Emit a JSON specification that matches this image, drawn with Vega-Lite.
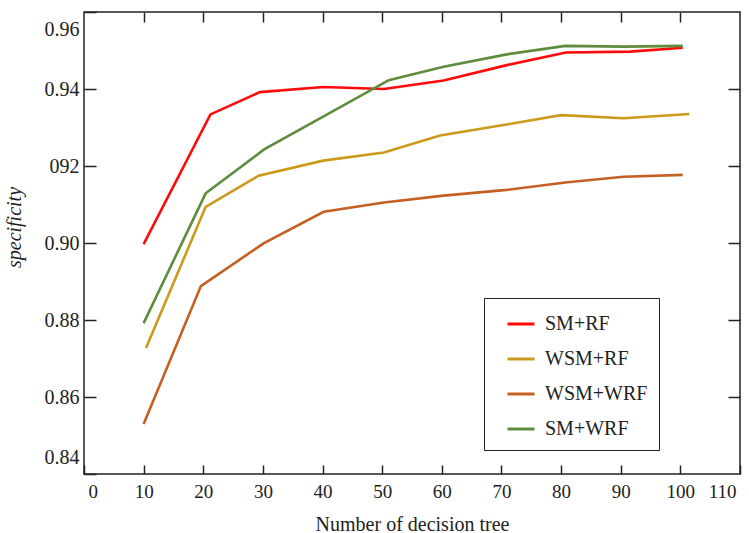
{
  "$schema": "https://vega.github.io/schema/vega-lite/v6.json",
  "width": 656,
  "height": 462,
  "autosize": {"type": "none"},
  "padding": {"left": 84, "top": 12, "right": 9, "bottom": 59},
  "background": "white",
  "config": {
    "font": "Liberation Serif",
    "view": {"stroke": "#222", "strokeWidth": 1.5},
    "axis": {"grid": false, "domain": false, "labelFont": "Liberation Serif", "titleFont": "Liberation Serif", "labelColor": "#222", "titleColor": "#222", "tickColor": "#222", "tickWidth": 1.5, "titleFontWeight": "normal"}
  },
  "data": {
    "values": [
      {"n": 10, "s": 0.8997, "m": "SM+RF"},
      {"n": 21.2, "s": 0.9334, "m": "SM+RF"},
      {"n": 29.5, "s": 0.9392, "m": "SM+RF"},
      {"n": 40.1, "s": 0.9405, "m": "SM+RF"},
      {"n": 50.3, "s": 0.9400, "m": "SM+RF"},
      {"n": 60.3, "s": 0.9422, "m": "SM+RF"},
      {"n": 70.9, "s": 0.9462, "m": "SM+RF"},
      {"n": 80.8, "s": 0.9495, "m": "SM+RF"},
      {"n": 91.6, "s": 0.9497, "m": "SM+RF"},
      {"n": 100.4, "s": 0.9507, "m": "SM+RF"},
      {"n": 10.4, "s": 0.8727, "m": "WSM+RF"},
      {"n": 20.4, "s": 0.9094, "m": "WSM+RF"},
      {"n": 29.3, "s": 0.9175, "m": "WSM+RF"},
      {"n": 40.1, "s": 0.9214, "m": "WSM+RF"},
      {"n": 50.3, "s": 0.9235, "m": "WSM+RF"},
      {"n": 59.7, "s": 0.9279, "m": "WSM+RF"},
      {"n": 70.6, "s": 0.9307, "m": "WSM+RF"},
      {"n": 80.0, "s": 0.9332, "m": "WSM+RF"},
      {"n": 90.5, "s": 0.9324, "m": "WSM+RF"},
      {"n": 101.5, "s": 0.9335, "m": "WSM+RF"},
      {"n": 10, "s": 0.8530, "m": "WSM+WRF"},
      {"n": 19.6, "s": 0.8888, "m": "WSM+WRF"},
      {"n": 30.1, "s": 0.8999, "m": "WSM+WRF"},
      {"n": 40.2, "s": 0.9081, "m": "WSM+WRF"},
      {"n": 50.3, "s": 0.9105, "m": "WSM+WRF"},
      {"n": 60.3, "s": 0.9123, "m": "WSM+WRF"},
      {"n": 70.9, "s": 0.9138, "m": "WSM+WRF"},
      {"n": 80.7, "s": 0.9157, "m": "WSM+WRF"},
      {"n": 90.5, "s": 0.9172, "m": "WSM+WRF"},
      {"n": 100.4, "s": 0.9177, "m": "WSM+WRF"},
      {"n": 10, "s": 0.8792, "m": "SM+WRF"},
      {"n": 20.4, "s": 0.9129, "m": "SM+WRF"},
      {"n": 30.2, "s": 0.9243, "m": "SM+WRF"},
      {"n": 40.1, "s": 0.9328, "m": "SM+WRF"},
      {"n": 51.1, "s": 0.9423, "m": "SM+WRF"},
      {"n": 60.3, "s": 0.9458, "m": "SM+WRF"},
      {"n": 70.9, "s": 0.9490, "m": "SM+WRF"},
      {"n": 80.7, "s": 0.9512, "m": "SM+WRF"},
      {"n": 90.5, "s": 0.9510, "m": "SM+WRF"},
      {"n": 100.4, "s": 0.9512, "m": "SM+WRF"}
    ]
  },
  "layer": [
    {
      "mark": {"type": "line", "strokeWidth": 2.6},
      "encoding": {
        "x": {"field": "n", "type": "quantitative", "scale": {"domain": [0, 110], "nice": false, "zero": false},
              "axis": {"orient": "bottom", "values": [0,10,20,30,40,50,60,70,80,90,100,110], "tickSize": -9, "labelPadding": 17, "labelFontSize": 19, "labelFlush": true, "labelFlushOffset": -4, "title": "Number of decision tree", "titleFontSize": 20, "titlePadding": 13}},
        "y": {"field": "s", "type": "quantitative", "scale": {"domain": [0.84, 0.96], "nice": false, "zero": false},
              "axis": {"orient": "left", "values": [0.84,0.86,0.88,0.90,0.92,0.94,0.96], "labelExpr": "abs(datum.value-0.92)<0.001 ? '092' : format(datum.value, '.2f')", "tickSize": -12, "labelPadding": 17, "labelFontSize": 20, "labelFlush": true, "labelFlushOffset": -7, "title": "specificity", "titleFontSize": 20, "titleFontStyle": "italic", "titlePadding": 20, "titleY": 215}},
        "color": {"field": "m", "type": "nominal",
                  "scale": {"domain": ["SM+RF", "WSM+RF", "WSM+WRF", "SM+WRF"], "range": ["#ff0a0a", "#cc9a1a", "#c55f22", "#5e8c3c"]},
                  "legend": {"orient": "none", "legendX": 400, "legendY": 286, "title": null, "strokeColor": "#222", "fillColor": "white", "padding": 11, "symbolOffset": 11, "symbolType": "stroke", "symbolSize": 729, "symbolStrokeWidth": 3, "labelFontSize": 20, "labelFont": "Liberation Serif", "labelColor": "#222", "labelOffset": 9, "rowPadding": 10}}
      }
    },
    {
      "mark": {"type": "line", "strokeOpacity": 0},
      "encoding": {
        "x": {"field": "n", "type": "quantitative", "axis": {"orient": "top", "values": [10,20,30,40,50,60,70,80,90,100], "tickSize": -10, "labels": false, "title": null}},
        "y": {"field": "s", "type": "quantitative", "axis": {"orient": "right", "values": [0.86,0.88,0.90,0.92,0.94], "tickSize": -12, "labels": false, "title": null}},
        "detail": {"field": "m", "type": "nominal"}
      }
    }
  ],
  "resolve": {"axis": {"x": "independent", "y": "independent"}}
}
